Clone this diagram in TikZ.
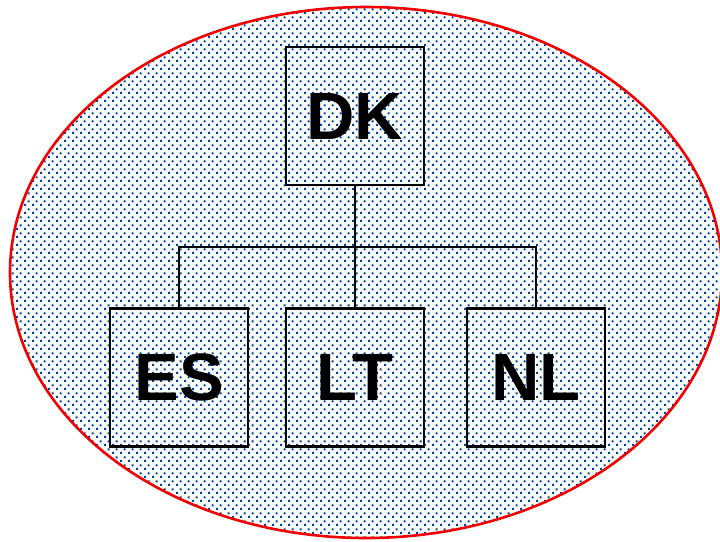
\documentclass[tikz,border=0pt]{standalone}
\usepackage{fontspec}
\setmainfont{Liberation Sans}
\usetikzlibrary{patterns.meta}

% staggered square dots, 8pt tile
\pgfdeclarepattern{
  name=stagdots,
  type=uncolored,
  bottom left={\pgfpoint{0pt}{0pt}},
  top right={\pgfpoint{8pt}{8pt}},
  tile size={\pgfpoint{8pt}{8pt}},
  code={
    \pgfpathrectangle{\pgfpoint{0pt}{0pt}}{\pgfpoint{2.3pt}{2.3pt}}
    \pgfpathrectangle{\pgfpoint{4pt}{4pt}}{\pgfpoint{2.3pt}{2.3pt}}
    \pgfusepath{fill}
  }
}

\definecolor{dotblue}{RGB}{0,70,150}
\definecolor{rimred}{RGB}{240,0,0}

\tikzset{
  countrybox/.style={draw=black, line width=2.2pt, minimum width=138pt, minimum height=138pt,
    inner sep=0pt, font=\fontsize{67}{67}\selectfont\bfseries},
  link/.style={draw=black, line width=2pt}
}

\begin{document}
\begin{tikzpicture}[x=1pt,y=-1pt]
  \useasboundingbox (0,0) rectangle (720,541);
  \fill[white] (0,0) rectangle (720,541);

  % dotted region with red rim
  \path[pattern=stagdots, pattern color=dotblue] (366,272.5) ellipse [x radius=356, y radius=265.5];
  \draw[rimred, line width=2.6pt] (366,272.5) ellipse [x radius=356, y radius=265.5];

  % country boxes
  \node[countrybox] (dk) at (355,116) {DK};
  \node[countrybox] (es) at (179,377.5) {ES};
  \node[countrybox] (lt) at (355,377.5) {LT};
  \node[countrybox] (nl) at (536,377.5) {NL};

  % tree connectors
  \coordinate (bus) at (355,247);
  \draw[link] (dk.south) -- (lt.north);
  \draw[link] (es.north) |- (bus) -| (nl.north);
\end{tikzpicture}
\end{document}
